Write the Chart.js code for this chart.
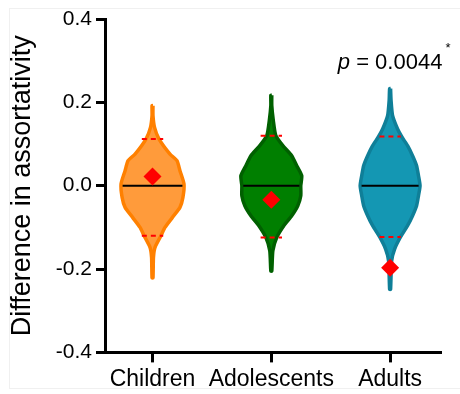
<!DOCTYPE html>
<html>
<head>
<meta charset="utf-8">
<script src="https://cdn.jsdelivr.net/npm/chart.js@4"></script>
<style>
  html, body { margin: 0; padding: 0; background: #fff; }
  #wrap { width: 460px; height: 394px; position: relative; }
</style>
</head>
<body>
<div id="wrap"><canvas id="myChart" width="460" height="394"></canvas></div>
<script>
// groups along the x axis
const groups = ["Children", "Adolescents", "Adults"];

// violin outlines: y level and half width (in x-axis units) at that level
const childrenLevels = [0.192, 0.168, 0.140, 0.112, 0.076, 0.060, 0.036, 0.004, -0.028, -0.052, -0.076, -0.100, -0.120, -0.148, -0.172, -0.221];
const childrenWidths = [0.004, 0.004, 0.017, 0.055, 0.147, 0.206, 0.231, 0.265, 0.256, 0.231, 0.168, 0.105, 0.071, 0.021, 0.008, 0.004];

const adolescentsLevels = [0.217, 0.192, 0.156, 0.120, 0.096, 0.072, 0.048, 0.024, 0.000, -0.024, -0.048, -0.072, -0.096, -0.124, -0.156, -0.205];
const adolescentsWidths = [0.004, 0.004, 0.017, 0.038, 0.097, 0.172, 0.214, 0.256, 0.248, 0.248, 0.223, 0.172, 0.105, 0.046, 0.013, 0.004];

const adultsLevels = [0.233, 0.205, 0.168, 0.136, 0.118, 0.096, 0.072, 0.048, 0.024, 0.000, -0.024, -0.048, -0.072, -0.096, -0.123, -0.152, -0.180, -0.249];
const adultsWidths = [0.004, 0.008, 0.021, 0.063, 0.097, 0.147, 0.189, 0.223, 0.239, 0.252, 0.239, 0.223, 0.189, 0.147, 0.088, 0.038, 0.013, 0.004];

// summary values per group
const medians = [0.0, 0.0, 0.0];
const means = [0.022, -0.034, -0.197];
const upperLines = [0.112, 0.120, 0.118];
const lowerLines = [-0.120, -0.124, -0.123];

const yTicks = [-0.4, -0.2, 0.0, 0.2, 0.4];
const pLabel = "0.0044";

// colori
const fillColors = ['#ff9b3b', '#007f00', '#1497b3'];
const lineColors = ['#ff8000', '#006000', '#0f7f98'];

const levels = [childrenLevels, adolescentsLevels, adultsLevels];
const widths = [childrenWidths, adolescentsWidths, adultsWidths];

function widthAt(g, v) {
  const L = levels[g], W = widths[g];
  for (let i = 0; i < L.length - 1; i++) {
    if (v <= L[i] && v >= L[i + 1]) {
      const t = (L[i] - v) / (L[i] - L[i + 1]);
      return W[i] + t * (W[i + 1] - W[i]);
    }
  }
  return 0;
}

const datasets = [];

// diamonds (mean)
datasets.push({
  type: 'scatter',
  data: means.map((m, i) => ({x: i + 1, y: m})),
  pointStyle: 'rectRot',
  pointRadius: 9,
  backgroundColor: '#ff0000',
  borderColor: '#ff0000',
  borderWidth: 0,
  order: 0
});

for (let g = 0; g < groups.length; g++) {
  // median line
  const mw = widthAt(g, medians[g]) - 0.012;
  datasets.push({
    type: 'line',
    data: [{x: g + 1 - mw, y: medians[g]}, {x: g + 1 + mw, y: medians[g]}],
    borderColor: '#000',
    borderWidth: 2,
    pointRadius: 0,
    order: 1
  });
  // dashed red lines
  [upperLines[g], lowerLines[g]].forEach(v => {
    datasets.push({
      type: 'line',
      data: [{x: g + 1 - 0.09, y: v}, {x: g + 1 + 0.09, y: v}],
      borderColor: '#ff0000',
      borderWidth: 2,
      borderDash: [5, 4],
      pointRadius: 0,
      order: 1
    });
  });
  // violin body
  const L = levels[g], W = widths[g];
  const pts = [];
  for (let i = 0; i < L.length; i++) pts.push({x: g + 1 + W[i], y: L[i]});
  for (let i = L.length - 1; i >= 0; i--) pts.push({x: g + 1 - W[i], y: L[i]});
  pts.push(pts[0]);
  datasets.push({
    type: 'line',
    data: pts,
    fill: 'shape',
    backgroundColor: fillColors[g],
    borderColor: lineColors[g],
    borderWidth: 3.5,
    borderJoinStyle: 'round',
    tension: 0.2,
    pointRadius: 0,
    order: 2
  });
}

const pValuePlugin = {
  id: 'pValue',
  beforeDraw(chart) {
    const c = chart.ctx;
    c.save();
    c.strokeStyle = '#f0f0f0';
    c.lineWidth = 1;
    c.strokeRect(9.5, 8.5, 470, 380);
    c.restore();
  },
  afterDraw(chart) {
    const c = chart.ctx;
    const x = chart.scales.x.getPixelForValue(3);
    const y = chart.scales.y.getPixelForValue(0.28);
    c.save();
    c.fillStyle = '#000';
    c.textBaseline = 'alphabetic';
    c.font = 'italic 22px "Liberation Sans", Arial, sans-serif';
    const w1 = c.measureText('p').width;
    c.font = '22px "Liberation Sans", Arial, sans-serif';
    const rest = ' = ' + pLabel;
    const w2 = c.measureText(rest).width;
    let x0 = x - (w1 + w2) / 2;
    c.font = 'italic 22px "Liberation Sans", Arial, sans-serif';
    c.fillText('p', x0, y);
    c.font = '22px "Liberation Sans", Arial, sans-serif';
    c.fillText(rest, x0 + w1, y);
    c.font = '13px "Liberation Sans", Arial, sans-serif';
    c.fillText('*', x0 + w1 + w2 + 3, y - 17);
    c.restore();
  }
};

const config = {
  type: 'scatter',
  data: { datasets: datasets },
  options: {
    responsive: false,
    animation: false,
    layout: { padding: { top: 19, right: 20, left: 0, bottom: -2 } },
    plugins: {
      legend: { display: false },
      tooltip: { enabled: false }
    },
    scales: {
      x: {
        type: 'linear',
        min: 0.6,
        max: 3.42,
        afterBuildTicks: s => { s.ticks = groups.map((g, i) => ({value: i + 1})); },
        ticks: {
          callback: v => groups[v - 1],
          color: '#000',
          font: { family: '"Liberation Sans", Arial, sans-serif', size: 23 },
          padding: 3,
          maxRotation: 0,
          autoSkip: false
        },
        grid: { drawOnChartArea: false, color: '#000', lineWidth: 3, tickLength: 10, tickWidth: 3 },
        border: { color: '#000', width: 3 }
      },
      y: {
        min: -0.4,
        max: 0.4,
        afterBuildTicks: s => { s.ticks = yTicks.map(v => ({value: v})); },
        afterFit: s => { s.width = 105; },
        ticks: {
          callback: v => v.toFixed(1),
          color: '#000',
          font: { family: '"Liberation Sans", Arial, sans-serif', size: 21 },
          padding: 4
        },
        grid: { drawOnChartArea: false, color: '#000', lineWidth: 3, tickLength: 9, tickWidth: 3 },
        border: { color: '#000', width: 3 },
        title: {
          display: true,
          text: 'Difference in assortativity',
          color: '#000',
          font: { family: '"Liberation Sans", Arial, sans-serif', size: 27 },
          padding: { top: 6, bottom: 0 }
        }
      }
    }
  },
  plugins: [pValuePlugin]
};

const myChart = new Chart(document.getElementById('myChart'), config);
</script>
</body>
</html>
